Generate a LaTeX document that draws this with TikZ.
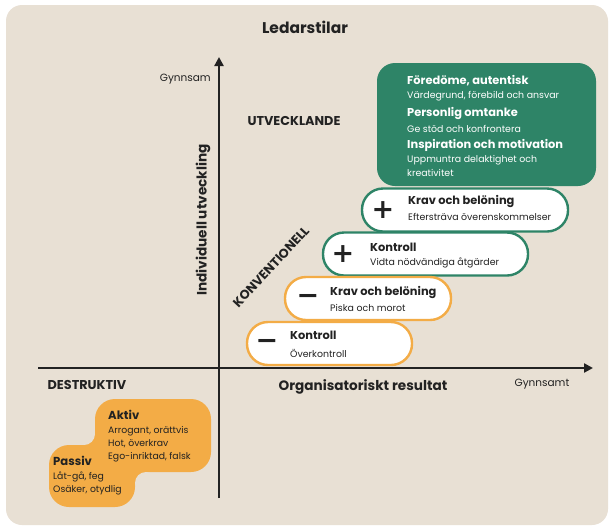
\documentclass[tikz,border=0pt]{standalone}
\usepackage{fontspec}
\setmainfont{Poppins}
\newfontfamily\signfont{DejaVu Sans}
\usetikzlibrary{arrows.meta}
\definecolor{bgc}{HTML}{E8E0D4}
\definecolor{grn}{HTML}{2E8467}
\definecolor{org}{HTML}{F3AC46}
\definecolor{ink}{HTML}{222222}
\tikzset{
  axisline/.style={line width=2.6pt, draw=ink, -{Triangle[length=9pt,width=9pt]}},
  pill/.style={draw, line width=2.4pt, fill=white, rounded corners=21pt, minimum height=43pt, inner sep=0pt},
  gpill/.style={pill, draw=grn},
  opill/.style={pill, draw=org},
  signtxt/.style={font=\signfont\bfseries\fontsize{27}{27}\selectfont, inner sep=0pt, text=ink},
  ttl/.style={font=\bfseries\fontsize{11.4}{13}\selectfont, inner sep=0pt, anchor=west, text=ink},
  subtxt/.style={font=\fontsize{9.4}{11}\selectfont, inner sep=0pt, anchor=west, text=ink},
  gttl/.style={ttl, text=white},
  gsub/.style={subtxt, text=white},
  quad/.style={font=\bfseries\fontsize{12.8}{14}\selectfont, inner sep=0pt, text=ink},
  axlabel/.style={font=\bfseries\fontsize{13.6}{15}\selectfont, inner sep=0pt, text=ink},
  endlabel/.style={font=\fontsize{10.5}{12}\selectfont, inner sep=0pt, text=ink},
  dttl/.style={font=\bfseries\fontsize{11.6}{13}\selectfont, inner sep=0pt, anchor=west, text=ink},
  dsub/.style={font=\fontsize{9.3}{11}\selectfont, inner sep=0pt, anchor=west, text=ink},
}
\begin{document}
\begin{tikzpicture}[x=1pt,y=-1pt]
\useasboundingbox (0,0) rectangle (609,528);
\fill[white] (0,0) rectangle (609,528);
\fill[bgc, rounded corners=16pt] (6,5) rectangle (608,525);

% title
\node[font=\bfseries\fontsize{15.5}{18}\selectfont, text=ink, inner sep=0pt] (title) at (305,27) {Ledarstilar};

% axes
\coordinate (vb) at (219,498);
\coordinate (vt) at (219,57);
\coordinate (hl) at (38,368);
\coordinate (hr) at (593,368);
\draw[axisline] (vb) -- (vt);
\draw[axisline] (hl) -- (hr);

\node[endlabel, anchor=east] (gy) at (211,79) {Gynnsam};
\node[endlabel] (gyt) at (542,384) {Gynnsamt};
\node[axlabel, rotate=90] (iu) at (203,220) {Individuell utveckling};
\node[axlabel] (orr) at (363,387) {Organisatoriskt resultat};

\node[quad] (utv) at (294,121) {UTVECKLANDE};
\node[quad, rotate=47] (konv) at (271,267) {KONVENTIONELL};
\node[quad] (destr) at (87,385) {DESTRUKTIV};

% green box
\node[fill=grn, rounded corners=18pt, minimum width=219pt, minimum height=123pt, inner sep=0pt] (gb) at (486.5,124.5) {};
\node[gttl] (g1) at (407,81) {Föredöme, autentisk};
\node[gsub] (g1s) at (407,96) {Värdegrund, förebild och ansvar};
\node[gttl] (g2) at (407,113) {Personlig omtanke};
\node[gsub] (g2s) at (407,129) {Ge stöd och konfrontera};
\node[gttl] (g3) at (407,145) {Inspiration och motivation};
\node[gsub] (g3s) at (407,160) {Uppmuntra delaktighet och};
\node[gsub] (g3t) at (407,173) {kreativitet};

% pills
\node[gpill, minimum width=206pt] (p1) at (465,210) {};
\node[signtxt] (s1) at (383,210) {+};
\node[ttl] (t1) at (408,201) {Krav och belöning};
\node[subtxt] (u1) at (408,217) {Eftersträva överenskommelser};

\node[gpill, minimum width=205pt] (p2) at (425.5,254) {};
\node[signtxt] (s2) at (343,254) {+};
\node[ttl] (t2) at (370,247) {Kontroll};
\node[subtxt] (u2) at (370,263) {Vidta nödvändiga åtgärder};

\node[opill, minimum width=166pt] (p3) at (368,298.5) {};
\node[signtxt] (s3) at (308,299) {−};
\node[ttl] (t3) at (330,292) {Krav och belöning};
\node[subtxt] (u3) at (330,308) {Piska och morot};

\node[opill, minimum width=165pt] (p4) at (329.5,343.5) {};
\node[signtxt] (s4) at (267,344) {−};
\node[ttl] (t4) at (290,335) {Kontroll};
\node[subtxt] (u4) at (290,353) {Överkontroll};

% destructive blob
\fill[org, rounded corners=20pt] (95,399) rectangle (211,472);
\fill[org, rounded corners=20pt] (49,445) rectangle (135,507);
\fill[org] (84,434) rectangle (96,446);
\fill[bgc] (84,434) circle (11pt);
\fill[org] (134,471) rectangle (146,483);
\fill[bgc] (146,483) circle (11pt);

\node[dttl] (akt) at (108,415) {Aktiv};
\node[dsub] (a1) at (108,431) {Arrogant, orättvis};
\node[dsub] (a2) at (108,444) {Hot, överkrav};
\node[dsub] (a3) at (108,457) {Ego-inriktad, falsk};
\node[dttl] (pas) at (53,461) {Passiv};
\node[dsub] (b1) at (53,477) {Låt-gå, feg};
\node[dsub] (b2) at (53,490) {Osäker, otydlig};
\end{tikzpicture}
\end{document}
